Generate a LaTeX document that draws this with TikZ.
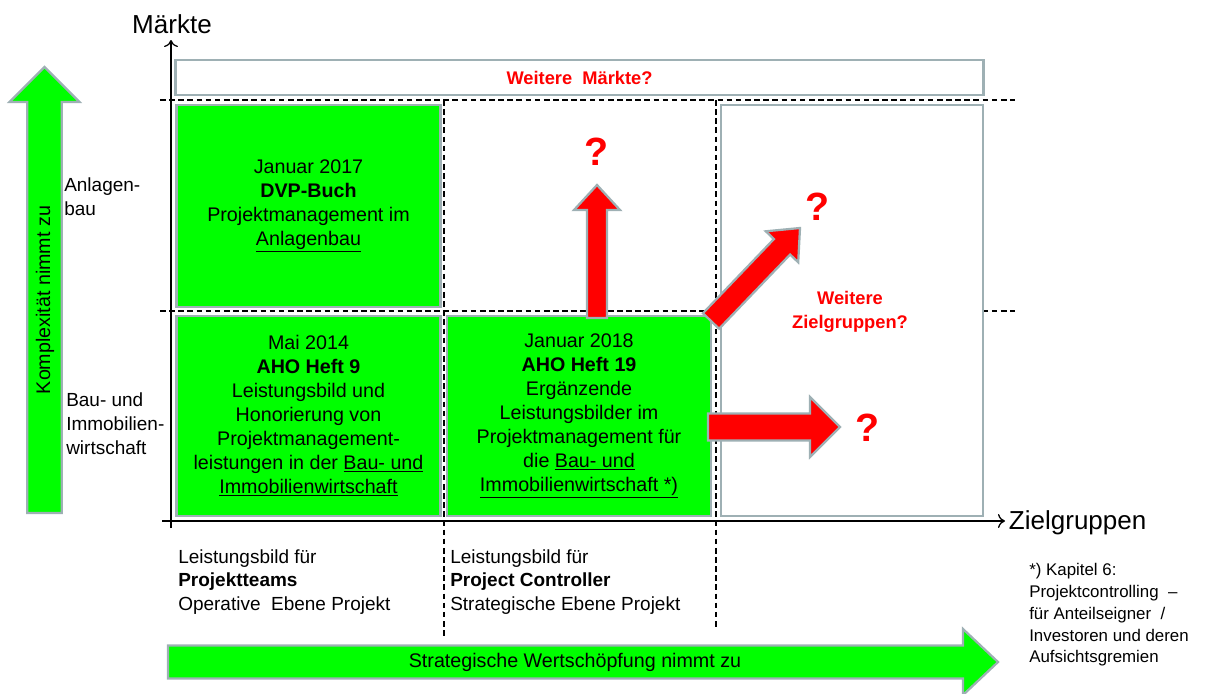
\documentclass[tikz,border=0pt]{standalone}
\usepackage{fontspec}
\setmainfont{Liberation Sans}
\usepackage{tikz}
\usetikzlibrary{calc,arrows.meta}

\definecolor{rimgray}{RGB}{158,176,180}
\definecolor{brightgreen}{RGB}{0,255,0}
\definecolor{alertred}{RGB}{255,0,0}

\newcommand{\boxfont}{\fontsize{14}{17}\selectfont}
\newcommand{\smallfont}{\fontsize{13.5}{17}\selectfont}

\tikzstyle{box} = [draw=rimgray, line width=2pt, rectangle, inner sep=2pt]
\tikzstyle{greenbox} = [box, fill=brightgreen, align=center, font=\boxfont, minimum width=6.6cm, minimum height=5cm]
\tikzstyle{redarrow} = [draw=rimgray, line width=1.6pt, fill=alertred, line join=miter]
\tikzstyle{greenarrow} = [draw=rimgray, line width=1.6pt, fill=brightgreen, line join=miter]
\tikzstyle{grid} = [black, line width=0.8pt, dash pattern=on 4pt off 2.5pt]
\tikzstyle{ask} = [text=alertred, font=\bfseries\fontsize{28}{30}\selectfont]
\tikzstyle{asktext} = [text=alertred, align=center, font=\bfseries\fontsize{13}{17}\selectfont]
\tikzstyle{label} = [anchor=west, align=left, font=\smallfont, inner sep=0pt]

% block arrow: style, tail, tip, half shaft, half head, head length
\newcommand{\blkarrow}[6]{%
  \coordinate (hb) at ($(#3)!#6!(#2)$);
  \draw[#1] ($(#2)!#4!90:(#3)$) -- ($(hb)!#4!90:(#3)$) -- ($(hb)!#5!90:(#3)$) -- (#3)
    -- ($(hb)!#5!-90:(#3)$) -- ($(hb)!#4!-90:(#3)$) -- ($(#2)!#4!-90:(#3)$) -- cycle;}

\begin{document}
\begin{tikzpicture}[x=0.025cm,y=-0.025cm]
\useasboundingbox (0,0) rectangle (1205,693);

% dashed grid
\draw[grid] (160,100) -- (1015,100);
\draw[grid] (160,311) -- (1015,311);
\draw[grid] (444,100) -- (444,637);
\draw[grid] (716,100) -- (716,628);

% boxes
\node[box, fill=white, minimum width=20.175cm, minimum height=0.875cm] (maerkte) at (579.5,77.5) {};
\node[asktext] at (maerkte) {Weitere~~Märkte?};
\node[box, fill=white, minimum width=6.55cm, minimum height=10.275cm] (ziel) at (852,310.5) {};

\node[greenbox, minimum height=5.05cm] (anlagen) at (308.5,206) {%
  Januar 2017\\ \textbf{DVP-Buch}\\ Projektmanagement im\\ \underline{Anlagenbau}};
\node[greenbox] (aho9) at (308.5,416) {%
  Mai 2014\\ \textbf{AHO Heft 9}\\ Leistungsbild und\\ Honorierung von\\ Projektmanagement-\\
  leistungen in der \underline{Bau- und}\\ \underline{Immobilienwirtschaft}};
\node[greenbox] (aho19) at (579,416) {%
  Januar 2018\\ \textbf{AHO Heft 19}\\ Ergänzende\\ Leistungsbilder im\\ Projektmanagement für\\
  die \underline{Bau- und}\\ \underline{Immobilienwirtschaft *)}};

% axes
\coordinate (origin) at (171,521);
\coordinate (ytop) at (171,40);
\coordinate (xend) at (1005,521);
\draw[line width=0.9pt, -{To[length=5pt,width=10pt]}] (171,528) -- (ytop);
\draw[line width=0.9pt, -{To[length=5pt,width=10pt]}] (162,521) -- (xend);
\node[font=\fontsize{18.5}{20}\selectfont] (ylabel) at (172,24) {Märkte};
\node[font=\fontsize{18.5}{20}\selectfont, anchor=west] (xlabel) at (1004,523) {Zielgruppen};

% red arrows
\coordinate (upTail) at (597,318);
\coordinate (upTip) at (597,185);
\coordinate (diagTail) at (711,321);
\coordinate (diagTip) at (800,228);
\coordinate (rightTail) at (708,427);
\coordinate (rightTip) at (840,427);
\blkarrow{redarrow}{upTail}{upTip}{0.25cm}{0.575cm}{0.625cm}
\blkarrow{redarrow}{diagTail}{diagTip}{0.28cm}{0.56cm}{0.65cm}
\blkarrow{redarrow}{rightTail}{rightTip}{0.34cm}{0.75cm}{0.75cm}
\node[ask] (askUp) at (597,152) {?};
\node[ask] (askDiag) at (818,207) {?};
\node[ask] (askRight) at (868,428) {?};
\node[asktext] (weitereZiel) at (850,312) {Weitere\\ Zielgruppen?};

% green arrows
\coordinate (leftTail) at (44.5,513);
\coordinate (leftTip) at (44.5,67);
\coordinate (bottomTail) at (168,662);
\coordinate (bottomTip) at (998,662);
\blkarrow{greenarrow}{leftTail}{leftTip}{0.43cm}{0.875cm}{0.875cm}
\blkarrow{greenarrow}{bottomTail}{bottomTip}{0.41cm}{0.825cm}{0.875cm}
\node[rotate=90, font=\boxfont] (komplex) at (45,300) {Komplexität nimmt zu};
\node[font=\boxfont] (wertschoepfung) at (575,662) {Strategische Wertschöpfung nimmt zu};

% row labels
\node[label] (rowAnlagen) at (64,197) {Anlagen-\\bau};
\node[label] (rowBau) at (66,424) {Bau- und\\Immobilien-\\wirtschaft};

% column labels
\node[label] (colTeams) at (178,582)
  {Leistungsbild für\\ \textbf{Projektteams}\\ Operative~ Ebene Projekt};
\node[label] (colController) at (450,582)
  {Leistungsbild für\\ \textbf{Project Controller}\\ Strategische Ebene Projekt};

% footnote
\node[label, font=\fontsize{12}{15.5}\selectfont] (fussnote) at (1029,615)
  {*) Kapitel 6:\\ Projektcontrolling~ --\\ für Anteilseigner~ /\\ Investoren und deren\\ Aufsichtsgremien};

\end{tikzpicture}
\end{document}
